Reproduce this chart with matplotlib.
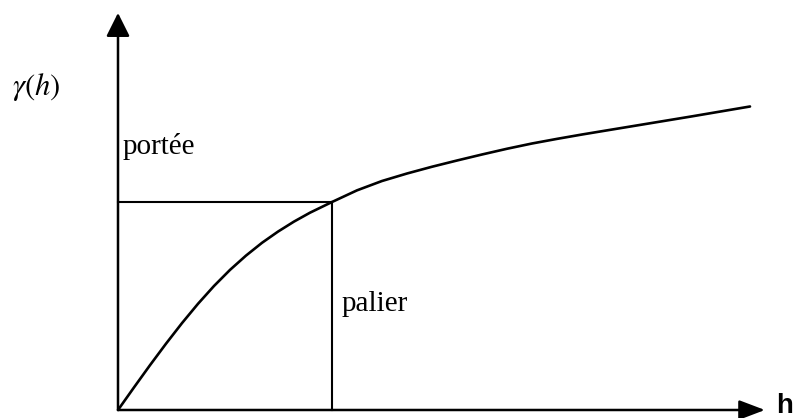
import matplotlib
matplotlib.use("Agg")
import matplotlib.pyplot as plt

plt.rcParams["mathtext.fontset"] = "stix"

# variogram curve, h in units of the range, gamma in units of the sill
h_values = [0.0, 0.0748, 0.1495, 0.2243, 0.2991, 0.3738, 0.4486, 0.5234,
            0.5981, 0.6729, 0.7477, 0.8224, 0.8972, 1.0,
            1.1168, 1.2336, 1.3505, 1.4673, 1.5841, 1.7009, 1.8178, 1.9346,
            2.0514, 2.1682, 2.2850, 2.4019, 2.5421, 2.6822, 2.8224, 2.9533]
gamma_values = [0.0, 0.1087, 0.2154, 0.3188, 0.4178, 0.5106, 0.5962, 0.6736,
                0.7423, 0.8038, 0.8577, 0.9058, 0.9486, 1.0,
                1.0560, 1.1010, 1.1370, 1.1695, 1.1995, 1.2284, 1.2560, 1.2813,
                1.3035, 1.3245, 1.3444, 1.3642, 1.3880, 1.4118, 1.4363, 1.4592]
range_h = 1.0
sill_gamma = 1.0

fig = plt.figure(figsize=(7.98, 4.18), dpi=100)
ax = fig.add_axes([0, 0, 1, 1])
ax.set_xlim(-0.5514, 3.1776)
ax.set_ylim(-0.0385, 1.9712)
ax.axis("off")

# axes with arrow heads
ax.annotate("", xy=(0, 1.909), xytext=(0, 0),
            arrowprops=dict(arrowstyle="-|>,head_length=1.44,head_width=0.72",
                            lw=1.8, color="black", shrinkA=0, shrinkB=0))
ax.annotate("", xy=(3.023, 0), xytext=(0, 0),
            arrowprops=dict(arrowstyle="-|>,head_length=1.58,head_width=0.6",
                            lw=1.8, color="black", shrinkA=0, shrinkB=0))

# range / sill guide lines
ax.plot([0, range_h], [sill_gamma, sill_gamma], color="black", lw=1.5)
ax.plot([range_h, range_h], [0, sill_gamma], color="black", lw=1.5)

ax.plot(h_values, gamma_values, color="black", lw=1.9,
        solid_capstyle="round", solid_joinstyle="round")

ax.text(-0.495, 1.553, r"$\gamma(h)$", fontsize=22, ha="left", va="center")
ax.text(0.023, 1.231, "portée", family="Liberation Serif", fontsize=21,
        ha="left", va="baseline")
ax.text(1.047, 0.476, "palier", family="Liberation Serif", fontsize=21,
        ha="left", va="baseline")
ax.text(3.075, -0.0144, "h", family="Liberation Sans", fontweight="bold",
        fontsize=20, ha="left", va="baseline")

fig.savefig("out.png", dpi=100)
